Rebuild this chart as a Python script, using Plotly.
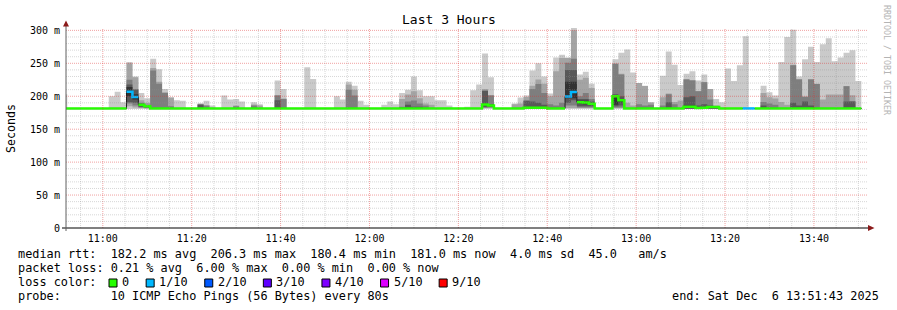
import datetime as dt
import plotly.graph_objects as go

# ---------------- data (one value per 80 s step, step start = 11:00 + k*80 s, k = -7 .. 127)
STEP_SECONDS = 80
FIRST_STEP = dt.datetime(2025, 12, 6, 10, 50, 40)
RANGE_START = dt.datetime(2025, 12, 6, 10, 51, 43)
RANGE_END = dt.datetime(2025, 12, 6, 13, 51, 43)

# sorted ping round-trip times (ms) per step, ping10 = slowest
ping10 = [203, 182, 182, 182, 182, 182, 182, 182, 200, 207, 191, 252, 230, 205, 197,
          257, 241, 211, 198, 194, 193, 182, 182, 189, 193, 186, 182, 201, 195, 196,
          192, 182, 191, 188, 182, 182, 224, 211, 182, 182, 182, 244, 226, 182, 182,
          182, 200, 195, 222, 216, 193, 187, 182, 182, 187, 192, 188, 205, 210, 230,
          209, 200, 200, 194, 194, 186, 182, 182, 184, 209, 218, 265, 229, 182, 182,
          182, 189, 198, 201, 239, 250, 230, 204, 259, 263, 259, 304, 233, 237, 219,
          182, 182, 182, 256, 266, 271, 236, 220, 216, 191, 182, 231, 268, 248, 217,
          234, 238, 224, 233, 211, 196, 191, 242, 223, 247, 291, 182, 182, 216, 206,
          201, 252, 290, 301, 230, 256, 275, 252, 279, 288, 253, 259, 266, 270, 223]
ping9 = [182, 182, 182, 182, 182, 182, 182, 182, 182, 182, 182, 250, 229, 194, 190,
         243, 222, 206, 198, 182, 182, 182, 182, 188.5, 186, 182, 182, 182, 182, 186,
         182, 182, 187.3, 186, 182, 182, 202, 196.4, 182, 182, 182, 182, 182, 182, 182,
         182, 182, 182, 218, 210, 182, 182, 182, 182, 182, 182, 182, 196, 202.5, 207.6,
         197, 189, 187, 182, 182, 182, 182, 182, 182, 182, 182, 211, 202, 182, 182,
         182, 188, 189, 199, 216, 225.3, 219, 200, 238, 258, 258, 300, 225, 228, 212.7,
         182, 182, 182, 250, 234, 190, 186, 220, 215.5, 190.5, 182, 198.4, 204, 191.3, 193.4,
         226, 224.5, 208, 221.8, 211, 186, 182, 182, 182, 182, 182, 182, 182, 205, 198.4,
         196.4, 191.3, 187, 248, 226, 200, 226, 219, 195, 202.5, 202.5, 202.5, 215.5, 201.5, 182]
ping8 = [182, 182, 182, 182, 182, 182, 182, 182, 182, 182, 182, 225, 211, 190, 187,
         239, 219, 205, 185, 182, 182, 182, 182, 188, 186, 182, 182, 182, 182, 185,
         182, 182, 186, 182, 182, 182, 201, 196, 182, 182, 182, 182, 182, 182, 182,
         182, 182, 182, 210, 201, 182, 182, 182, 182, 182, 182, 182, 184, 192, 193.4,
         189, 186, 182, 182, 182, 182, 182, 182, 182, 182, 182, 209, 201, 182, 182,
         182, 182, 182, 193.4, 211, 218.7, 205, 188, 186, 190, 251, 257, 200, 205, 196,
         182, 182, 182, 249, 233, 182, 182, 188, 186, 187, 182, 186, 203, 188, 182,
         225.3, 223.8, 207.6, 221.3, 195, 182, 182, 182, 182, 182, 182, 182, 182, 191.3, 189,
         187, 182, 182, 247.2, 225.3, 199, 225.3, 218.7, 182, 182, 182, 182, 215, 192.4, 182]
ping7 = [182, 182, 182, 182, 182, 182, 182, 182, 182, 182, 182, 218, 210, 189, 186,
         182, 182, 182, 182, 182, 182, 182, 182, 187, 182, 182, 182, 182, 182, 182,
         182, 182, 182, 182, 182, 182, 194, 182, 182, 182, 182, 182, 182, 182, 182,
         182, 182, 182, 182, 182, 182, 182, 182, 182, 182, 182, 182, 183, 187, 184,
         184, 182, 182, 182, 182, 182, 182, 182, 182, 182, 182, 208, 188, 182, 182,
         182, 182, 182, 193, 192, 190, 187, 182, 182, 182, 240, 240, 196, 196, 192,
         182, 182, 182, 203, 200, 182, 182, 182, 182, 182, 182, 182, 190.8, 182, 182,
         198.4, 200, 186, 188, 186, 182, 182, 182, 182, 182, 182, 182, 182, 186, 182,
         182, 182, 182, 190, 186, 192, 186, 182, 182, 182, 182, 182, 192, 192, 182]
ping6 = [182, 182, 182, 182, 182, 182, 182, 182, 182, 182, 182, 214, 203, 188, 185.5,
         182, 182, 182, 182, 182, 182, 182, 182, 182, 182, 182, 182, 182, 182, 182,
         182, 182, 182, 182, 182, 182, 182, 182, 182, 182, 182, 182, 182, 182, 182,
         182, 182, 182, 182, 182, 182, 182, 182, 182, 182, 182, 182, 182, 182, 182,
         182, 182, 182, 182, 182, 182, 182, 182, 182, 182, 182, 189, 187, 182, 182,
         182, 182, 182, 182, 182, 182, 182, 182, 182, 182, 222, 222, 193, 193, 190,
         182, 182, 182, 202, 196, 182, 182, 182, 182, 182, 182, 182, 182, 182, 182,
         186, 186, 182, 183, 185, 185, 182, 182, 182, 182, 182, 182, 182, 182, 182,
         182, 182, 182, 182, 182, 182, 182, 182, 182, 182, 182, 182, 182, 182, 182]
ping5 = [181, 181, 181, 181, 181, 181, 181, 181, 181, 181, 181, 200, 195, 186, 184.5,
         181, 181, 181, 181, 181, 181, 181, 181, 181, 181, 181, 181, 181, 181, 181,
         181, 181, 181, 181, 181, 181, 181, 181, 181, 181, 181, 181, 181, 181, 181,
         181, 181, 181, 181, 181, 181, 181, 181, 181, 181, 181, 181, 181, 181, 181,
         181, 181, 181, 181, 181, 181, 181, 181, 181, 181, 181, 186, 185, 181, 181,
         181, 181, 181, 182, 182, 182, 182, 181, 181, 181, 197, 197, 189, 188, 187,
         181, 181, 181, 187, 191, 181, 181, 181, 181, 181, 181, 181, 181, 181, 181,
         182, 182, 181, 182, 182, 182, 181, 181, 181, 181, 181, 181, 181, 181, 181,
         181, 181, 181, 181, 181, 181, 181, 181, 181, 181, 181, 181, 181, 181, 181]
ping4 = [181, 181, 181, 181, 181, 181, 181, 181, 181, 181, 181, 191, 190, 184, 183,
         181, 181, 181, 181, 181, 181, 181, 181, 181, 181, 181, 181, 181, 181, 181,
         181, 181, 181, 181, 181, 181, 181, 181, 181, 181, 181, 181, 181, 181, 181,
         181, 181, 181, 181, 181, 181, 181, 181, 181, 181, 181, 181, 181, 181, 181,
         181, 181, 181, 181, 181, 181, 181, 181, 181, 181, 181, 183.5, 184, 181, 181,
         181, 181, 181, 181, 181, 181, 181, 181, 181, 181, 190, 194, 185, 185, 185,
         181, 181, 181, 185, 186, 181, 181, 181, 181, 181, 181, 181, 181, 181, 181,
         181, 181, 181, 181, 181, 181, 181, 181, 181, 181, 181, 181, 181, 181, 181,
         181, 181, 181, 181, 181, 181, 181, 181, 181, 181, 181, 181, 181, 181, 181]
ping3 = [181, 181, 181, 181, 181, 181, 181, 181, 181, 181, 181, 189, 186, 183, 182,
         181, 181, 181, 181, 181, 181, 181, 181, 181, 181, 181, 181, 181, 181, 181,
         181, 181, 181, 181, 181, 181, 181, 181, 181, 181, 181, 181, 181, 181, 181,
         181, 181, 181, 181, 181, 181, 181, 181, 181, 181, 181, 181, 181, 181, 181,
         181, 181, 181, 181, 181, 181, 181, 181, 181, 181, 181, 182.5, 183, 181, 181,
         181, 181, 181, 181, 181, 181, 181, 181, 181, 181, 186, 186, 183, 183, 183,
         181, 181, 181, 183, 183, 181, 181, 181, 181, 181, 181, 181, 181, 181, 181,
         181, 181, 181, 181, 181, 181, 181, 181, 181, 181, 181, 181, 181, 181, 181,
         181, 181, 181, 181, 181, 181, 181, 181, 181, 181, 181, 181, 181, 181, 181]
ping2 = [181, 181, 181, 181, 181, 181, 181, 181, 181, 181, 181, 185, 183, 182, 181.5,
         181, 181, 181, 181, 181, 181, 181, 181, 181, 181, 181, 181, 181, 181, 181,
         181, 181, 181, 181, 181, 181, 181, 181, 181, 181, 181, 181, 181, 181, 181,
         181, 181, 181, 181, 181, 181, 181, 181, 181, 181, 181, 181, 181, 181, 181,
         181, 181, 181, 181, 181, 181, 181, 181, 181, 181, 181, 182, 182, 181, 181,
         181, 181, 181, 181, 181, 181, 181, 181, 181, 181, 182, 182, 182, 182, 182,
         181, 181, 181, 182, 182, 181, 181, 181, 181, 181, 181, 181, 181, 181, 181,
         181, 181, 181, 181, 181, 181, 181, 181, 181, 181, 181, 181, 181, 181, 181,
         181, 181, 181, 181, 181, 181, 181, 181, 181, 181, 181, 181, 181, 181, 181]
ping1 = [180.5] * 135
median_rtt = [181.5, 181.5, 181.5, 181.5, 181.5, 181.5, 181.5, 181.5, 181.5, 181.5, 181.5, 207, 199, 187, 185,
              181.5, 181.5, 181.5, 181.5, 181.5, 181.5, 181.5, 181.5, 181.5, 181.5, 181.5, 181.5, 181.5, 181.5, 181.5,
              181.5, 181.5, 181.5, 181.5, 181.5, 181.5, 181.5, 181.5, 181.5, 181.5, 181.5, 181.5, 181.5, 181.5, 181.5,
              181.5, 181.5, 181.5, 181.5, 181.5, 181.5, 181.5, 181.5, 181.5, 181.5, 181.5, 181.5, 181.5, 181.5, 181.5,
              181.5, 181.5, 181.5, 181.5, 181.5, 181.5, 181.5, 181.5, 181.5, 181.5, 181.5, 187.5, 186, 181.5, 181.5,
              181.5, 181.5, 181.5, 182.5, 182.5, 182.5, 182.5, 181.5, 181.5, 181.5, 199.5, 206.3, 191, 190.6, 188.5,
              181.5, 181.5, 181.5, 200, 194, 181.5, 181.5, 181.5, 181.5, 181.5, 181.5, 181.5, 181.5, 181.5, 181.5,
              184, 184, 182, 182.5, 183.5, 183.5, 181.5, 181.5, 181.5, 181.5, 181.5, 181.5, 181.5, 181.5, 181.5,
              181.5, 181.5, 181.5, 181.5, 181.5, 181.5, 181.5, 181.5, 181.5, 181.5, 181.5, 181.5, 181.5, 181.5, 181.5]
lost_pings = [0, 0, 0, 0, 0, 0, 0, 0, 0, 0, 0, 1, 1, 0, 0,
              0, 0, 0, 0, 0, 0, 0, 0, 0, 0, 0, 0, 0, 0, 0,
              0, 0, 0, 0, 0, 0, 0, 0, 0, 0, 0, 0, 0, 0, 0,
              0, 0, 0, 0, 0, 0, 0, 0, 0, 0, 0, 0, 0, 0, 0,
              0, 0, 0, 0, 0, 0, 0, 0, 0, 0, 0, 0, 0, 0, 0,
              0, 0, 0, 0, 0, 0, 0, 0, 0, 0, 1, 1, 0, 0, 0,
              0, 0, 0, 0, 0, 0, 0, 0, 0, 0, 0, 0, 0, 0, 0,
              0, 0, 0, 0, 0, 0, 0, 0, 0, 0, 1, 1, 0, 0, 0,
              0, 0, 0, 0, 0, 0, 0, 0, 0, 0, 0, 0, 0, 0, 0]

loss_levels = [0, 1, 2, 3, 4, 5, 9]
loss_labels = ["0", "1/10", "2/10", "3/10", "4/10", "5/10", "9/10"]
loss_colors = ["#26ff00", "#00b8ff", "#0059ff", "#5e00ff", "#7e00ff", "#dd00ff", "#ff0000"]
smoke_colors = ["#cacaca", "#a4a4a4", "#7e7e7e", "#585858", "#323232"]

y_tick_values = [0, 50, 100, 150, 200, 250, 300]
y_tick_labels = ["0", "50 m", "100 m", "150 m", "200 m", "250 m", "300 m"]
x_tick_labels = ["11:00", "11:20", "11:40", "12:00", "12:20", "12:40", "13:00", "13:20", "13:40"]

stats_rtt = ["182.2", "206.3", "180.4", "181.0", "4.0", "45.0"]
stats_loss = ["0.21", "6.00", "0.00", "0.00"]
probe_text = "10 ICMP Echo Pings (56 Bytes) every 80s"
end_text = "end: Sat Dec  6 13:51:43 2025"
title_text = "Last 3 Hours"

# ---------------- geometry (pixels)
W, H = 897, 310
L, R, T, B = 66, 31, 28, 82
PW, PH = W - L - R, H - T - B
Y_MAX = 303.6
MONO = "DejaVu Sans Mono"


def px(x):
    return (x - L) / PW


def py(y):
    return (H - B - y) / PH


n = len(ping10)
times = [FIRST_STEP + dt.timedelta(seconds=STEP_SECONDS * i) for i in range(n + 1)]


def ext(a):
    return list(a) + [a[-1]]


fig = go.Figure()
pings = [ping1, ping2, ping3, ping4, ping5, ping6, ping7, ping8, ping9, ping10]
for i in range(5):
    lo, hi = pings[i], pings[9 - i]
    fig.add_trace(go.Scatter(x=times, y=ext(lo), mode="lines", line=dict(width=0, shape="hv"),
                             hoverinfo="skip", showlegend=False))
    fig.add_trace(go.Scatter(x=times, y=ext(hi), mode="lines", line=dict(width=0, shape="hv"),
                             fill="tonexty", fillcolor=smoke_colors[i], hoverinfo="skip", showlegend=False))

# thin dark median line
fig.add_trace(go.Scatter(x=times, y=ext(median_rtt), mode="lines",
                         line=dict(width=1, color="#202020", shape="hv"), hoverinfo="skip", showlegend=False))


def loss_class(v):
    idx = 0
    for j, lv in enumerate(loss_levels):
        if v >= lv:
            idx = j
    return idx


classes = [loss_class(v) for v in lost_pings]
for c, col in enumerate(loss_colors):
    xs, ys = [], []
    for i in range(n):
        if classes[i] != c:
            continue
        xs.append(times[i]); ys.append(median_rtt[i])
        if i == n - 1 or classes[i + 1] != c:
            xs.append(times[i + 1]); ys.append(median_rtt[i])
            xs.append(None); ys.append(None)
    if xs:
        fig.add_trace(go.Scatter(x=xs, y=ys, mode="lines", line=dict(width=2.5, color=col, shape="hv"),
                                 connectgaps=False, hoverinfo="skip", showlegend=False))

# ---------------- grid (drawn above the smoke, like rrdtool)
shapes = []
minor_col = "rgba(143,143,143,0.36)"
major_col = "rgba(222,48,48,0.45)"
major_times = [dt.datetime(2025, 12, 6, int(s[:2]), int(s[3:])) for s in x_tick_labels]
t = dt.datetime(2025, 12, 6, 10, 55)
while t <= RANGE_END:
    is_major = t in major_times
    shapes.append(dict(type="line", xref="x", yref="paper", x0=t, x1=t, y0=0, y1=1,
                       line=dict(color=major_col if is_major else minor_col, width=1, dash="1px,1px"),
                       layer="above"))
    t += dt.timedelta(minutes=5)
for v in range(10, 301, 10):
    is_major = v in y_tick_values
    shapes.append(dict(type="line", xref="paper", yref="y", x0=0, x1=px(868), y0=v, y1=v,
                       line=dict(color=major_col if is_major else minor_col, width=1, dash="1px,1px"),
                       layer="above"))
# axes and arrows
shapes.append(dict(type="line", xref="paper", yref="paper", x0=px(62), x1=px(868), y0=0, y1=0,
                   line=dict(color="#000000", width=1), layer="above"))
shapes.append(dict(type="line", xref="paper", yref="paper", x0=0, x1=0, y0=py(231), y1=py(24),
                   line=dict(color="#606060", width=1), layer="above"))
shapes.append(dict(type="path", xref="paper", yref="paper", layer="above",
                   path=f"M {px(63)} {py(26.5)} L {px(69)} {py(26.5)} L {px(66)} {py(20.5)} Z",
                   fillcolor="#8b1a1a", line=dict(width=0)))
shapes.append(dict(type="path", xref="paper", yref="paper", layer="above",
                   path=f"M {px(868)} {py(225)} L {px(868)} {py(231)} L {px(874.5)} {py(228)} Z",
                   fillcolor="#8b1a1a", line=dict(width=0)))

annotations = []


def text(x, y, s, size=11.85, anchor="left", color="#000000", angle=0):
    annotations.append(dict(xref="paper", yref="paper", x=px(x), y=py(y), text=s.replace(" ", "\u00a0"),
                            showarrow=False, xanchor=anchor, yanchor="middle", textangle=angle,
                            font=dict(family=MONO, size=size, color=color)))


text(449, 19, title_text, size=13, anchor="center")
text(11, 128, "Seconds", size=11.6, anchor="center", angle=-90)
text(887, 60, "RRDTOOL / TOBI OETIKER", size=8.3, anchor="center", color="#b4b4b4", angle=90)

row1 = (f"median rtt:  {stats_rtt[0]} ms avg  {stats_rtt[1]} ms max  {stats_rtt[2]} ms min  "
        f"{stats_rtt[3]} ms now  {stats_rtt[4]} ms sd  {stats_rtt[5]}   am/s")
row2 = f"packet loss: {stats_loss[0]} % avg  {stats_loss[1]} % max  {stats_loss[2]} % min  {stats_loss[3]} % now"
text(16, 254, row1)
text(16, 268, row2)
text(16, 282, "loss color:")
bx = 109.0
for lab, col in zip(loss_labels, loss_colors):
    shapes.append(dict(type="rect", xref="paper", yref="paper", x0=px(bx), x1=px(bx + 8),
                       y0=py(287), y1=py(279), fillcolor=col, line=dict(color="#000000", width=1),
                       layer="above"))
    text(bx + 11, 282, lab)
    bx = bx + 11 + len(lab) * 7.15 + 19
text(16, 296, "probe:       " + probe_text)
text(881, 296, end_text, anchor="right")

fig.update_layout(
    width=W, height=H, autosize=False,
    margin=dict(l=L, r=R, t=T, b=B, pad=0),
    paper_bgcolor="#ffffff", plot_bgcolor="#ffffff",
    showlegend=False,
    shapes=shapes, annotations=annotations,
    xaxis=dict(type="date", range=[RANGE_START, RANGE_END], showgrid=False, zeroline=False,
               showline=False, tickvals=major_times, ticktext=x_tick_labels, ticks="",
               ticklabelstandoff=3,
               tickfont=dict(family=MONO, size=10, color="#000000"), automargin=False,
               fixedrange=True),
    yaxis=dict(range=[0, Y_MAX], showgrid=False, zeroline=False, showline=False,
               tickvals=y_tick_values, ticktext=y_tick_labels, ticks="",
               ticklabelstandoff=5,
               tickfont=dict(family=MONO, size=10, color="#000000"), automargin=False,
               fixedrange=True),
)

fig.write_html("out.html")
